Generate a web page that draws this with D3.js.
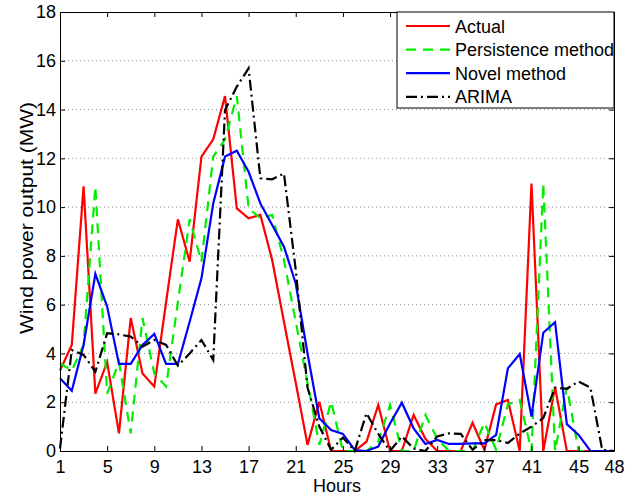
<!DOCTYPE html>
<html>
<head>
<meta charset="utf-8">
<script src="https://cdn.jsdelivr.net/npm/d3@7"></script>
<style>
  body { margin: 0; background: #fff; }
  text { font-family: "Liberation Sans", Arial, Helvetica, sans-serif; fill: #000; }
</style>
</head>
<body>
<div id="chart"></div>
<script>
// hours on the x axis
let hours = [1, 2, 3, 4, 5, 6, 7, 8, 9, 10, 11, 12, 13, 14, 15, 16, 17, 18, 19, 20, 21, 22, 23, 24,
             25, 26, 27, 28, 29, 30, 31, 32, 33, 34, 35, 36, 37, 38, 39, 40, 41, 42, 43, 44, 45, 46, 47, 48];

let actual = [3.3, 4.35, 10.85, 2.35, 3.65, 0.72, 5.45, 3.18, 2.64, 6.1, 9.5, 7.76, 12.07, 12.78, 14.55, 9.95,
              9.54, 9.68, 7.83, 5.3, 2.8, 0.25, 2.02, 0, 0, 0, 0.38, 1.89, 0, 0, 1.48, 0.5,
              0, 0, 0, 1.16, 0.05, 1.91, 2.09, 0, 10.97, 0, 2.62, 0, 0, 0, 0, 0];

let persistence = [3.6, 3.3, 4.35, 10.85, 2.35, 3.65, 0.72, 5.45, 3.18, 2.64, 6.1, 9.5, 7.76, 12.07, 12.78, 14.55,
                   9.95, 9.54, 9.68, 7.83, 5.3, 2.8, 0.25, 2.02, 0, 0, 0, 0.38, 1.89, 0, 0, 1.48,
                   0.5, 0, 0, 0, 1.16, 0.05, 1.91, 2.09, 0, 10.97, 0, 2.62, 0, 0, 0, 0];

let novel = [2.98, 2.47, 4.35, 7.26, 5.92, 3.57, 3.57, 4.35, 4.8, 3.57, 3.57, 5.3, 7.08, 10.15, 12.07, 12.31,
             11.45, 10.15, 9.27, 8.38, 6.87, 4.0, 1.34, 0.86, 0.7, 0.04, 0, 0.18, 1.13, 1.98, 0.93, 0.29,
             0.45, 0.29, 0.29, 0.31, 0.31, 0.66, 3.39, 3.98, 1.41, 4.85, 5.28, 1.1, 0.66, 0, 0, 0];

let arima = [0.1, 4.14, 3.94, 3.25, 4.83, 4.78, 4.69, 4.28, 4.55, 4.35, 3.5, 4.0, 4.55, 3.73, 13.98, 14.94,
             15.69, 11.18, 11.14, 11.38, 7.42, 2.6, 1.0, 0.05, 0.55, 0, 1.55, 0.7, 0, 0.6, 0.1, 0,
             0.6, 0.72, 0.7, 0.05, 0.45, 0.45, 0.33, 0.72, 1.0, 1.35, 2.6, 2.55, 2.85, 2.6, 0.05, 0];

let xTicks = [1, 5, 9, 13, 17, 21, 25, 29, 33, 37, 41, 45, 48];
let yTicks = [0, 2, 4, 6, 8, 10, 12, 14, 16, 18];

let series = [
    {name: "Actual", values: actual, color: "#ff0000", dash: null},
    {name: "Persistence method", values: persistence, color: "#00ee00", dash: "10,7"},
    {name: "Novel method", values: novel, color: "#0000ff", dash: null},
    {name: "ARIMA", values: arima, color: "#000000", dash: "11,4,2,4"}
];

let width = 641, height = 498;
let margin = {left: 60, right: 27, top: 12, bottom: 47};

let svg = d3.select("#chart")
    .append("svg")
    .attr("width", width)
    .attr("height", height);

let x = d3.scaleLinear()
    .domain([1, 48])
    .range([margin.left, width - margin.right]);

let y = d3.scaleLinear()
    .domain([0, 18])
    .range([height - margin.bottom, margin.top]);

// dotted grid lines
svg.append("g")
    .selectAll("line")
    .data(yTicks.filter(d => d > 0 && d < 18))
    .enter()
    .append("line")
    .attr("x1", x(1))
    .attr("x2", x(48))
    .attr("y1", d => y(d))
    .attr("y2", d => y(d))
    .attr("stroke", "#8c8c8c")
    .attr("stroke-width", 1)
    .attr("stroke-dasharray", "1,3");

// series lines
let line = d3.line()
    .x((d, i) => x(hours[i]))
    .y(d => y(d));

svg.append("g")
    .selectAll("path")
    .data(series)
    .enter()
    .append("path")
    .attr("d", d => line(d.values))
    .attr("fill", "none")
    .attr("stroke", d => d.color)
    .attr("stroke-width", 2.2)
    .attr("stroke-linejoin", "miter")
    .attr("stroke-dasharray", d => d.dash);

// axes, ticks pointing inward like matlab
let fontSize = "18px";

svg.append("g")
    .attr("transform", `translate(0, ${y(0)})`)
    .call(d3.axisBottom(x).tickValues(xTicks).tickSize(-5).tickSizeOuter(0).tickPadding(9));

svg.append("g")
    .attr("transform", `translate(${x(1)}, 0)`)
    .call(d3.axisLeft(y).tickValues(yTicks).tickSize(-5).tickSizeOuter(0).tickPadding(4));

svg.append("g")
    .attr("transform", `translate(0, ${y(18)})`)
    .call(d3.axisTop(x).tickValues(xTicks).tickSize(-5).tickSizeOuter(0).tickFormat(""));

svg.append("g")
    .attr("transform", `translate(${x(48)}, 0)`)
    .call(d3.axisRight(y).tickValues(yTicks).tickSize(-5).tickSizeOuter(0).tickFormat(""));

svg.selectAll(".tick text")
    .style("font-size", fontSize)
    .attr("font-family", null);
svg.selectAll(".domain, .tick line").attr("stroke", "#000");

// axis labels
svg.append("text")
    .attr("x", (x(1) + x(48)) / 2)
    .attr("y", 492)
    .style("text-anchor", "middle")
    .style("font-size", fontSize)
    .text("Hours");

svg.append("text")
    .attr("transform", "translate(33, 218) rotate(-90)")
    .style("text-anchor", "middle")
    .style("font-size", "19px")
    .attr("textLength", 232)
    .attr("lengthAdjust", "spacingAndGlyphs")
    .text("Wind power output (MW)");

// legend
let legend = svg.append("g");
legend.append("rect")
    .attr("x", 397)
    .attr("y", y(18))
    .attr("width", x(48) - 397)
    .attr("height", 96)
    .attr("fill", "#fff")
    .attr("stroke", "#000")
    .attr("stroke-width", 1);

let rows = legend.selectAll(".row")
    .data(series)
    .enter()
    .append("g")
    .attr("class", "row")
    .attr("transform", (d, i) => `translate(0, ${26 + i * 23.6})`);

rows.append("line")
    .attr("x1", 406)
    .attr("x2", 450)
    .attr("stroke", d => d.color)
    .attr("stroke-width", 2.2)
    .attr("stroke-dasharray", d => d.dash);

rows.append("text")
    .attr("x", 455)
    .attr("y", 6.5)
    .style("font-size", fontSize)
    .text(d => d.name);
</script>
</body>
</html>
